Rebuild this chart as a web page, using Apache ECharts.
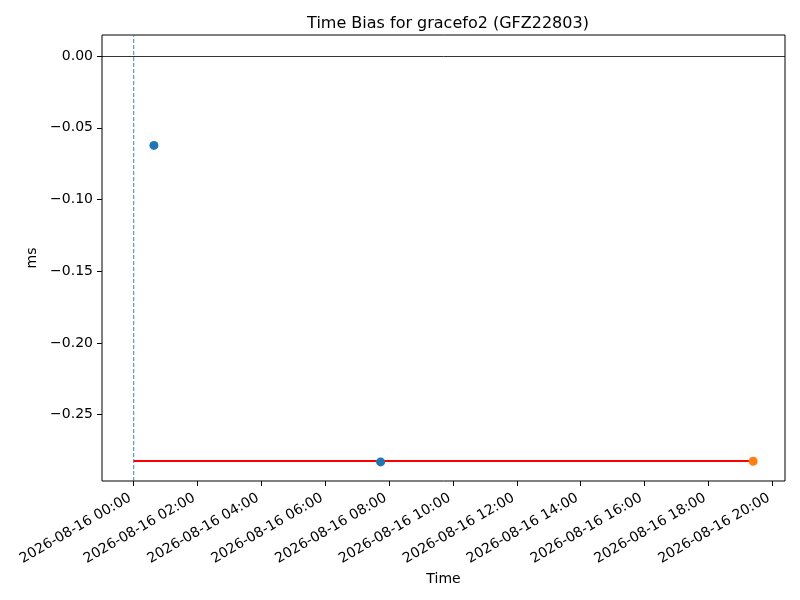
<!DOCTYPE html>
<html>
<head>
<meta charset="utf-8">
<script src="https://cdn.jsdelivr.net/npm/echarts@6/dist/echarts.min.js"></script>
<style>
  html, body { margin: 0; padding: 0; background: #fff; }
  #chart { width: 800px; height: 600px; }
</style>
</head>
<body>
<div id="chart"></div>
<script>
// data (times on 2026-08-16, values in ms)
var day = '2026-08-16';
var pointTimes = ['00:38', '07:44'];
var pointValues = [-0.0623, -0.2830];
var lastTimes = ['19:24'];
var lastValues = [-0.2825];
var fitTimes = ['00:00', '19:24'];
var fitValues = [-0.2824, -0.2824];
var markerTime = '00:00';
var xTicks = [0, 2, 4, 6, 8, 10, 12, 14, 16, 18, 20];
var yTicks = [0, -0.05, -0.10, -0.15, -0.20, -0.25];

// axis limits (matplotlib-style 5% margins)
var xMin = -0.993, xMax = 20.398;
var yMin = -0.2963, yMax = 0.0147;

// HH:MM -> hours since midnight
function hours(t) {
  var p = t.split(':');
  return +p[0] + p[1] / 60;
}
function pairs(times, vals) {
  return times.map(function (t, i) { return [hours(t), vals[i]]; });
}
function pad(n) { return (n < 10 ? '0' : '') + n; }

var font = 'DejaVu Sans';
var myChart = echarts.init(document.getElementById('chart'));

var option = {
  animation: false,
  backgroundColor: '#fff',
  textStyle: { fontFamily: font },
  title: {
    text: 'Time Bias for gracefo2 (GFZ22803)',
    left: 443,
    top: 11,
    textAlign: 'center',
    textStyle: { fontFamily: font, fontSize: 16, fontWeight: 'normal', color: '#000' }
  },
  grid: {
    left: 102, right: 15, top: 35, bottom: 119,
    show: true, borderColor: '#000', borderWidth: 1, backgroundColor: 'transparent'
  },
  xAxis: {
    type: 'value',
    min: xMin,
    max: xMax,
    name: 'Time',
    nameLocation: 'middle',
    nameGap: 89,
    nameTextStyle: { fontFamily: font, fontSize: 14, color: '#000' },
    splitLine: { show: false },
    axisLine: { show: false, onZero: false },
    axisTick: {
      show: true, inside: false, length: 5,
      customValues: xTicks,
      lineStyle: { color: '#000', width: 1 }
    },
    axisLabel: {
      customValues: xTicks,
      rotate: 30,
      margin: 14,
      padding: [0, 4, 0, 0],
      fontFamily: font,
      fontSize: 14,
      color: '#000',
      formatter: function (v) { return day + ' ' + pad(Math.round(v)) + ':00'; }
    }
  },
  yAxis: {
    type: 'value',
    min: yMin,
    max: yMax,
    name: 'ms',
    nameLocation: 'middle',
    nameGap: 44,
    nameTextStyle: { fontFamily: font, fontSize: 14, color: '#000' },
    splitLine: { show: false },
    axisLine: { show: false, onZero: false },
    axisTick: {
      show: true, inside: false, length: 5,
      customValues: yTicks,
      lineStyle: { color: '#000', width: 1 }
    },
    axisLabel: {
      customValues: yTicks,
      margin: 9,
      fontFamily: font,
      fontSize: 14,
      color: '#000',
      formatter: function (v) { return v.toFixed(2).replace('-', '\u2212'); }
    }
  },
  series: [
    {
      // zero line
      type: 'line',
      data: [],
      silent: true,
      markLine: {
        symbol: 'none',
        silent: true,
        label: { show: false },
        lineStyle: { color: '#000000', width: 0.8, type: 'solid' },
        data: [{ yAxis: 0 }]
      }
    },
    {
      // start marker
      type: 'line',
      data: [[hours(markerTime), yMin], [hours(markerTime), yMax]],
      silent: true,
      showSymbol: false,
      lineStyle: { color: '#1f77b4', width: 0.9, type: [4, 2] },
      z: 1
    },
    {
      type: 'line',
      data: pairs(fitTimes, fitValues),
      showSymbol: false,
      lineStyle: { color: '#ff0000', width: 2 },
      z: 3
    },
    {
      type: 'scatter',
      data: pairs(pointTimes, pointValues),
      symbolSize: 9,
      itemStyle: { color: '#1f77b4', opacity: 1 },
      z: 4
    },
    {
      type: 'scatter',
      data: pairs(lastTimes, lastValues),
      symbolSize: 9,
      itemStyle: { color: '#ff7f0e', opacity: 1 },
      z: 4
    }
  ]
};

myChart.setOption(option);
</script>
</body>
</html>
